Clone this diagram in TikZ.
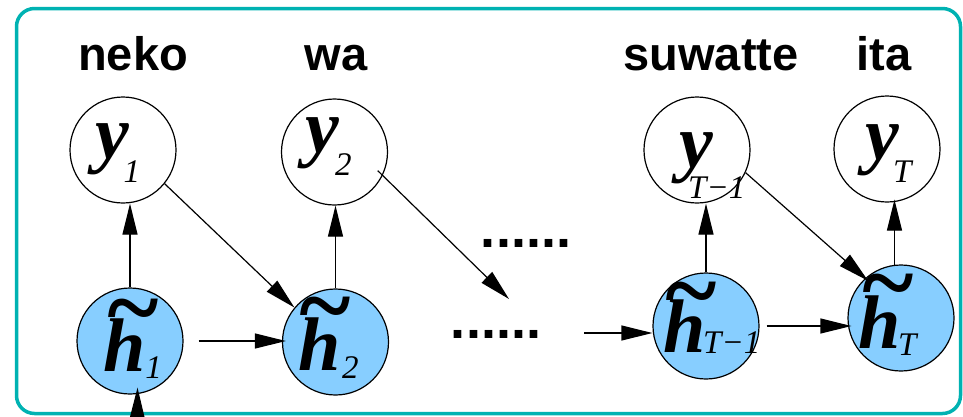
\documentclass[tikz,border=0pt]{standalone}
\usepackage{fontspec}
\setmainfont{Liberation Serif}
\newfontfamily\wordfont{Liberation Sans}
\newfontfamily\symfont{Liberation Serif}
\usetikzlibrary{arrows.meta}
\definecolor{frameteal}{RGB}{0,178,178}
\definecolor{hblue}{RGB}{135,206,255}
% bold italic letter with an italic subscript: #1 letter, #2 kern, #3 drop, #4 subscript
\newcommand\subsym[4]{#1\kern#2\raisebox{-#3}{\subfont #4}}
% the same with a heavy tilde above: #1 tilde kern, #2 tilde raise
\newcommand\tildesym[6]{\rlap{\kern#1\raisebox{#2}{\tildefont\textasciitilde}}\subsym{#3}{#4}{#5}{#6}}
\newcommand\subfont{\symfont\mdseries\itshape\fontsize{33}{33}\selectfont}
\newcommand\tildefont{\symfont\bfseries\itshape\fontsize{98}{98}\selectfont}
\begin{document}
\begin{tikzpicture}[x=1pt,y=-1pt,
  outnode/.style={circle, draw, line width=1.2pt, minimum size=106pt, inner sep=0pt, fill=white},
  hidnode/.style={outnode, fill=hblue},
  wordlabel/.style={anchor=base, inner sep=0pt, font=\wordfont\bfseries\fontsize{47}{47}\selectfont},
  dotrow/.style={anchor=base, inner sep=0pt, font=\wordfont\bfseries\fontsize{54}{54}\selectfont},
  symglyph/.style={anchor=base west, inner sep=0pt, font=\symfont\bfseries\itshape\fontsize{76}{76}\selectfont},
  conn/.style={line width=1.2pt, -{Triangle[length=31pt,width=15pt]}},
]
\useasboundingbox (0,0) rectangle (963,416);
\clip (0,0) rectangle (963,416);

% frame
\draw[frameteal, line width=3.5pt, rounded corners=18pt] (16.5,8.5) rectangle (960.5,413.5);

% words
\node[wordlabel] (wneko) at (133,70) {neko};
\node[wordlabel] (wwa) at (336,70) {wa};
\node[wordlabel] (wsuw) at (711,70) {suwatte};
\node[wordlabel] (wita) at (884,70) {ita};

% output nodes
\node[outnode] (y1) at (123,150) {};
\node[outnode] (y2) at (334.5,152) {};
\node[outnode] (yT1) at (697,150) {};
\node[outnode] (yT) at (887,149) {};

% hidden-state nodes
\node[hidnode] (h1) at (130,341) {};
\node[hidnode] (h2) at (335.5,342) {};
\node[hidnode] (hT1) at (706,326) {};
\node[hidnode] (hT) at (901,318) {};

% elided middle of the chain
\node[dotrow] (dtop) at (526,247) {......};
\node[dotrow] (dlow) at (496,338) {......};
\coordinate (midend) at (509,299);
\coordinate (lowstart) at (584,333);
\coordinate (instart) at (137,445);

% connectors
\draw[conn] (h1.north) -- (h1.north |- y1.south);
\draw[conn] (h2.north) -- (h2.north |- y2.south);
\draw[conn] (hT1.north) -- (hT1.north |- yT1.south);
\draw[conn, shorten >=-3pt] (hT.97) -- (hT.97 |- yT.south);
\draw[conn] (y1.-39) -- (h2.140);
\draw[conn, shorten <=-7pt] (y2.-26) -- (midend);
\draw[conn, shorten >=-4pt] (yT1.-25) -- (hT.132);
\draw[conn, shorten <=15pt, shorten >=-4pt] (h1.east) -- (h1.east -| h2.west);
\draw[conn, shorten <=7pt, shorten >=-4pt] (hT1.east) -- (hT1.east -| hT.west);
\draw[conn] (lowstart) -- (lowstart -| hT1.west);
\draw[conn, shorten >=-6.5pt] (instart) -- (h1.-82);

% symbols in the output nodes
\node[symglyph] (y1g) at (95,158) {\subsym{y}{-5.3pt}{24pt}{1}};
\node[symglyph] (y2g) at (305,152) {\subsym{y}{-3.7pt}{23pt}{2}};
\node[symglyph] (yT1g) at (679,167) {\subsym{y}{-24.7pt}{31pt}{T−1}};
\node[symglyph] (yTg) at (865,159) {\subsym{y}{-5.7pt}{23pt}{T}};

% symbols in the hidden-state nodes
\node[symglyph] (h1g) at (103,371) {\tildesym{1pt}{31pt}{h}{0pt}{7pt}{1}};
\node[symglyph] (h2g) at (298,370) {\tildesym{-2pt}{32pt}{h}{1.7pt}{8pt}{2}};
\node[symglyph] (hT1g) at (663,352) {\tildesym{-1pt}{29pt}{h}{-2.3pt}{1pt}{T−1}};
\node[symglyph] (hTg) at (858,348) {\tildesym{1pt}{33pt}{h}{-2.3pt}{7pt}{T}};
\end{tikzpicture}
\end{document}
